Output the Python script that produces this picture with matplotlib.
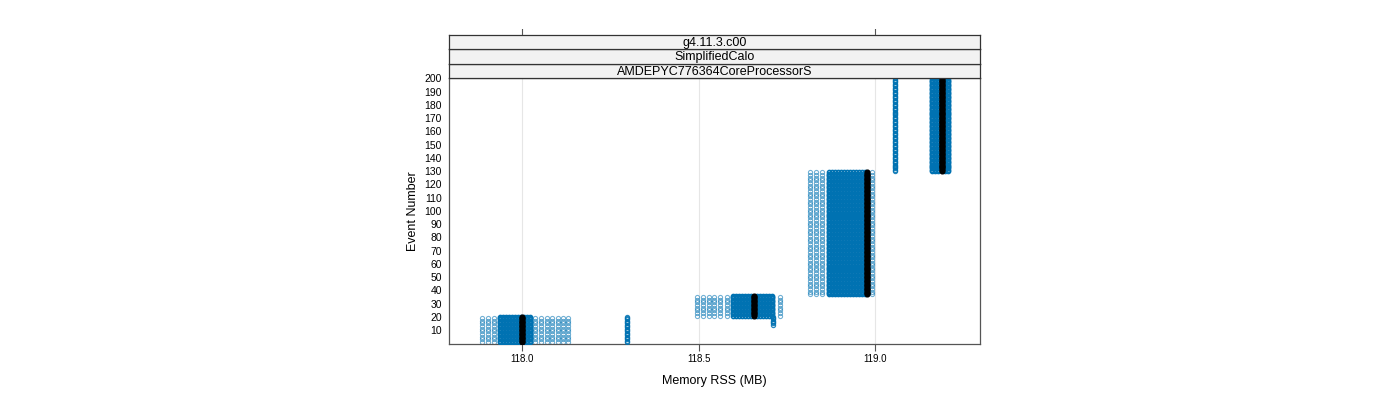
import matplotlib
matplotlib.use("Agg")
import matplotlib.pyplot as plt
import numpy as np

plt.rcParams["font.family"] = ["Liberation Sans", "DejaVu Sans"]

# --- data (Memory RSS in MB per event) ---
strip_labels = ["g4.11.3.c00", "SimplifiedCalo", "AMDEPYC776364CoreProcessorS"]

# event ranges of the four memory plateaus
group_first = [1, 21, 37, 130]
group_last = [20, 36, 129, 200]

# densely populated columns (many runs) per plateau
dense_x_1 = [117.938, 117.946, 117.955, 117.963, 117.972, 117.980, 117.989,
             117.997, 118.006, 118.014, 118.023]
dense_x_2 = [118.598, 118.606, 118.615, 118.623, 118.632, 118.640, 118.649,
             118.666, 118.674, 118.683, 118.691, 118.700, 118.708]
dense_x_3 = [118.870, 118.878, 118.887, 118.895, 118.904, 118.912, 118.921,
             118.929, 118.938, 118.946, 118.955, 118.963, 118.971]
dense_x_4 = [119.161, 119.169, 119.178, 119.198, 119.207]

# sparsely populated columns per plateau
light_x_1 = [117.887, 117.904, 117.921, 118.037, 118.054, 118.071, 118.085,
             118.102, 118.116, 118.130]
light_x_2 = [118.496, 118.513, 118.530, 118.544, 118.561, 118.581, 118.731]
light_x_3 = [118.816, 118.833, 118.850, 118.992]
light_x_4 = []

# isolated columns
extra_x = [118.296, 118.711, 119.057]
extra_first = [1, 14, 130]
extra_last = [20, 20, 200]

# median run (black)
median_x = [118.0, 118.657, 118.977, 119.190]

x_ticks = [118.0, 118.5, 119.0]
y_ticks = list(range(10, 201, 10))

BLUE = "#0072B2"
MS = 3.0

fig = plt.figure(figsize=(14, 4), dpi=100)
W, H = 1400, 400
left, right, top, bottom = 449, 980, 78, 344
ax = fig.add_axes([left / W, 1 - bottom / H, (right - left) / W, (bottom - top) / H])

for x in x_ticks:
    ax.axvline(x, color="#e6e6e6", linewidth=0.8, zorder=0)

dense_groups = [dense_x_1, dense_x_2, dense_x_3, dense_x_4]
light_groups = [light_x_1, light_x_2, light_x_3, light_x_4]

for i in range(4):
    ev = np.arange(group_first[i], group_last[i] + 1)
    for x in light_groups[i]:
        ax.plot(np.full(len(ev[::2]), x), ev[::2], "o", mfc="none", mec=BLUE,
                ms=MS, mew=0.8, alpha=0.55, zorder=2)
    for x in dense_groups[i]:
        ax.plot(np.full(len(ev), x), ev, "o", mfc="none", mec=BLUE,
                ms=MS, mew=1.1, zorder=3)

for x, a, b in zip(extra_x, extra_first, extra_last):
    ev = np.arange(a, b + 1)
    ax.plot(np.full(len(ev), x), ev, "o", mfc="none", mec=BLUE,
            ms=MS, mew=0.9, alpha=0.85, zorder=3)

for i, x in enumerate(median_x):
    ev = np.arange(group_first[i], group_last[i] + 1)
    ax.plot(np.full(len(ev), x), ev, "o", color="black", ms=3.4, zorder=4)

ax.set_xlim(117.793, 119.297)
ax.set_ylim(-0.5, 200.3)
ax.set_xticks(x_ticks)
ax.set_xticklabels([f"{v:.1f}" for v in x_ticks], fontsize=7)
ax.set_yticks(y_ticks)
ax.set_yticklabels([str(v) for v in y_ticks], fontsize=7.5)
ax.tick_params(axis="y", length=0, pad=5)
ax.tick_params(axis="x", length=5, width=0.8, color="#555555", pad=2)
for s in ax.spines.values():
    s.set_color("#555555")
    s.set_linewidth(0.9)

ax.set_xlabel("Memory RSS (MB)", fontsize=9, labelpad=8)
ax.set_ylabel("Event Number", fontsize=9, labelpad=4)

# strips above the panel
strip_h = (top - 35) / 3
for k, lab in enumerate(reversed(strip_labels)):
    y0 = top - (k + 1) * strip_h
    sax = fig.add_axes([left / W, 1 - (y0 + strip_h) / H, (right - left) / W, strip_h / H])
    sax.set_facecolor("#f2f2f2")
    sax.set_xticks([])
    sax.set_yticks([])
    for s in sax.spines.values():
        s.set_color("#333333")
        s.set_linewidth(0.9)
    sax.text(0.5, 0.45, lab, ha="center", va="center", fontsize=9,
             transform=sax.transAxes)

# top tick marks above the strips
tax = fig.add_axes([left / W, 1 - 35 / H, (right - left) / W, 6 / H])
tax.set_xlim(ax.get_xlim())
tax.set_ylim(0, 1)
tax.axis("off")
for x in [118.0, 119.0]:
    tax.plot([x, x], [0, 1], color="#555555", linewidth=0.8)

fig.savefig("out.png", dpi=100)
